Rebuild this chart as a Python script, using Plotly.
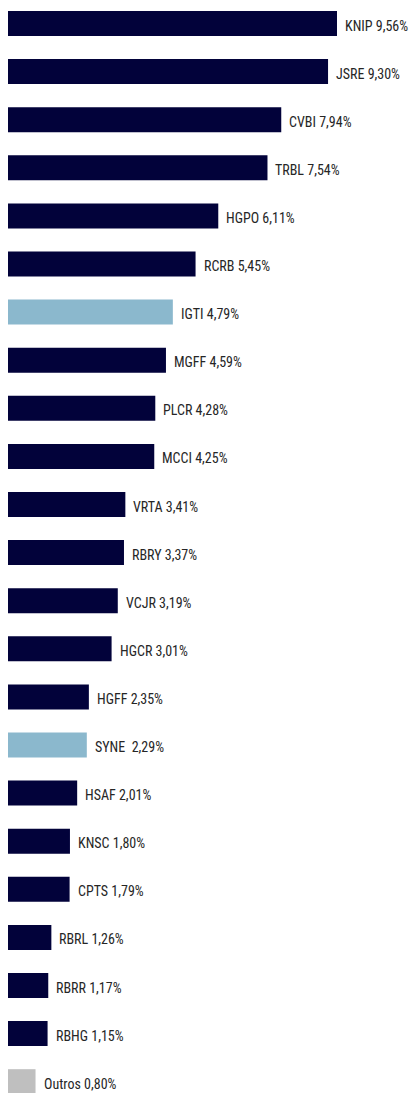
import plotly.graph_objects as go

tickers = ["KNIP", "JSRE", "CVBI", "TRBL", "HGPO", "RCRB", "IGTI", "MGFF", "PLCR", "MCCI",
           "VRTA", "RBRY", "VCJR", "HGCR", "HGFF", "SYNE", "HSAF", "KNSC", "CPTS", "RBRL",
           "RBRR", "RBHG", "Outros"]
weights = [9.56, 9.30, 7.94, 7.54, 6.11, 5.45, 4.79, 4.59, 4.28, 4.25,
           3.41, 3.37, 3.19, 3.01, 2.35, 2.29, 2.01, 1.80, 1.79, 1.26,
           1.17, 1.15, 0.80]
groups = ["a"] * 6 + ["b"] + ["a"] * 8 + ["b"] + ["a"] * 6 + ["c"]

color_map = {"a": "#02023a", "b": "#8bb8cd", "c": "#bfbfbf"}
colors = [color_map[g] for g in groups]
positions = list(range(len(tickers)))


def fmt(t, v):
    sep = "\u00a0\u00a0" if t == "SYNE" else " "
    return f"{t}{sep}{v:.2f}%".replace(".", ",")


labels = [fmt(t, v) for t, v in zip(tickers, weights)]

fig = go.Figure()
fig.add_trace(go.Bar(
    x=weights, y=positions, orientation="h",
    marker=dict(color=colors, line=dict(width=0)),
    width=0.52, hoverinfo="skip",
))

for v, p, lab in zip(weights, positions, labels):
    fig.add_annotation(
        x=v, y=p, text=lab, showarrow=False, xanchor="left", yanchor="middle",
        xshift=6, yshift=-2,
        font=dict(family="Roboto Condensed, sans-serif", weight=400,
                  size=14, color="#262626"),
    )

px_per_unit_x = 329 / 9.56
px_per_cat = 48.1
fig.update_layout(
    width=414, height=1093,
    margin=dict(l=0, r=0, t=0, b=0),
    paper_bgcolor="white", plot_bgcolor="white",
    showlegend=False,
    xaxis=dict(range=[-8 / px_per_unit_x, (414 - 8) / px_per_unit_x],
               visible=False, showgrid=False, zeroline=False, fixedrange=True),
    yaxis=dict(range=[(1093 - 23.5) / px_per_cat, -23.5 / px_per_cat],
               visible=False, showgrid=False, zeroline=False, fixedrange=True),
)

fig.write_html("out.html")
